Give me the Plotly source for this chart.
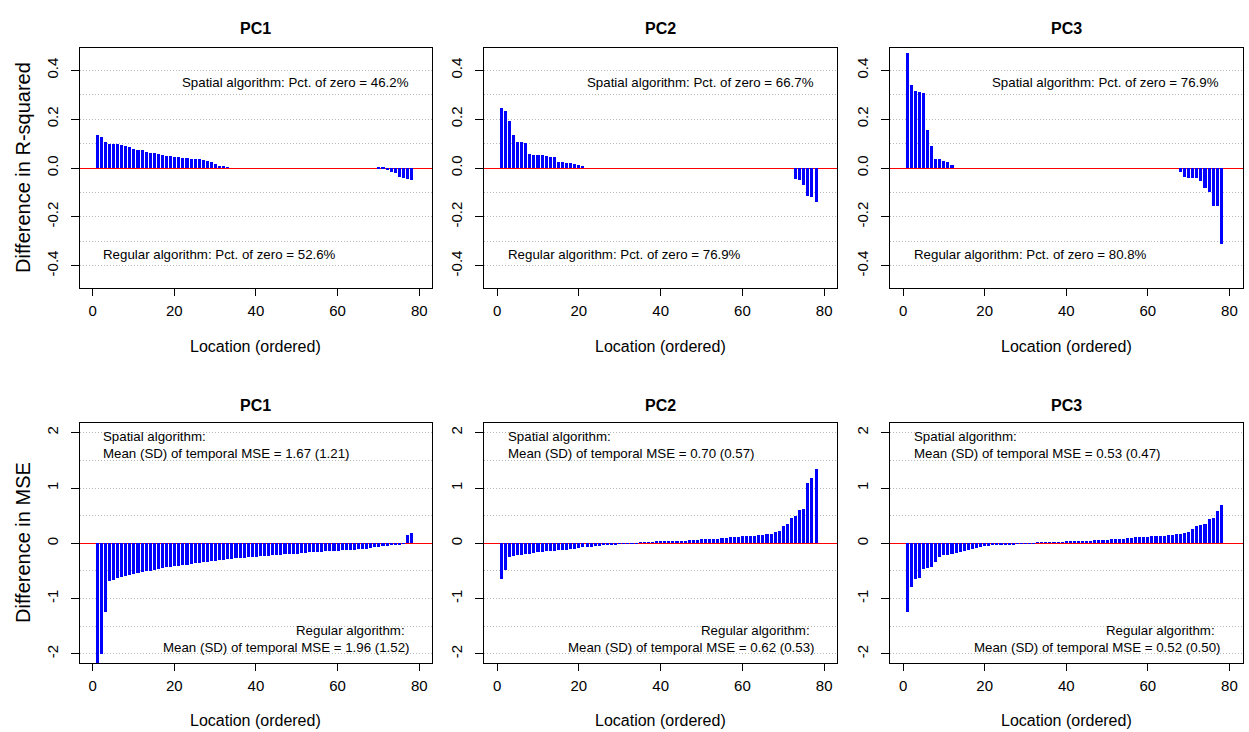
import plotly.graph_objects as go
from plotly.subplots import make_subplots

locations = list(range(1, 79))

r2_pc1 = ([0.133, 0.125, 0.106, 0.099, 0.097, 0.095, 0.094, 0.088, 0.086, 0.076, 0.073,
           0.071, 0.065, 0.061, 0.060, 0.057, 0.052, 0.048, 0.046, 0.045, 0.044, 0.041,
           0.038, 0.037, 0.035, 0.034, 0.030, 0.027, 0.023, 0.014, 0.008, 0.004, 0.002]
          + [0.0] * 36
          + [-0.004, -0.007, -0.011, -0.018, -0.023, -0.037, -0.041, -0.048, -0.052])

r2_pc2 = ([0.245, 0.234, 0.193, 0.133, 0.107, 0.107, 0.103, 0.057, 0.052, 0.050, 0.050,
           0.048, 0.045, 0.042, 0.022, 0.022, 0.019, 0.018, 0.015, 0.011, 0.005]
          + [0.0] * 51
          + [-0.048, -0.050, -0.071, -0.116, -0.118, -0.139])

r2_pc3 = ([0.469, 0.337, 0.312, 0.310, 0.305, 0.154, 0.088, 0.035, 0.035, 0.029, 0.022, 0.010]
          + [0.0] * 55
          + [-0.016, -0.037, -0.041, -0.041, -0.042, -0.056, -0.084, -0.098, -0.156, -0.158, -0.312])

mse_pc1 = [-2.30, -2.00, -1.25, -0.69, -0.66, -0.64, -0.62, -0.60, -0.58, -0.56,
           -0.54, -0.53, -0.51, -0.50, -0.48, -0.47, -0.46, -0.44, -0.43, -0.42,
           -0.41, -0.40, -0.39, -0.38, -0.37, -0.36, -0.35, -0.34, -0.33, -0.32,
           -0.31, -0.30, -0.29, -0.29, -0.28, -0.27, -0.27, -0.26, -0.25, -0.25,
           -0.24, -0.23, -0.23, -0.22, -0.21, -0.21, -0.20, -0.20, -0.19, -0.19,
           -0.18, -0.18, -0.17, -0.17, -0.16, -0.16, -0.15, -0.15, -0.14, -0.14,
           -0.13, -0.13, -0.12, -0.12, -0.11, -0.10, -0.10, -0.09, -0.08, -0.07,
           -0.06, -0.05, -0.04, -0.03, -0.02, -0.01, 0.14, 0.18]

mse_pc2 = [-0.65, -0.49, -0.25, -0.24, -0.22, -0.21, -0.20, -0.19, -0.18, -0.17,
           -0.16, -0.15, -0.14, -0.14, -0.13, -0.12, -0.12, -0.11, -0.10, -0.09,
           -0.08, -0.08, -0.07, -0.06, -0.05, -0.04, -0.035, -0.03, -0.02, -0.015,
           -0.01, -0.008, -0.005, -0.002, 0.003, 0.006, 0.010, 0.015, 0.020, 0.025,
           0.028, 0.032, 0.035, 0.038, 0.040, 0.045, 0.050, 0.055, 0.060, 0.065,
           0.070, 0.072, 0.075, 0.080, 0.090, 0.095, 0.100, 0.105, 0.110, 0.120,
           0.125, 0.130, 0.135, 0.140, 0.150, 0.160, 0.170, 0.190, 0.220, 0.310,
           0.340, 0.460, 0.480, 0.600, 0.610, 1.080, 1.180, 1.330]

mse_pc3 = [-1.25, -0.79, -0.65, -0.64, -0.47, -0.46, -0.43, -0.34, -0.25, -0.22,
           -0.21, -0.20, -0.18, -0.16, -0.15, -0.13, -0.10, -0.09, -0.07, -0.06,
           -0.05, -0.045, -0.04, -0.035, -0.03, -0.025, -0.02, -0.015, -0.01, -0.008,
           -0.005, -0.003, 0.002, 0.004, 0.006, 0.008, 0.010, 0.013, 0.016, 0.020,
           0.024, 0.028, 0.032, 0.036, 0.040, 0.044, 0.048, 0.052, 0.056, 0.060,
           0.065, 0.070, 0.075, 0.080, 0.090, 0.095, 0.100, 0.105, 0.110, 0.115,
           0.120, 0.125, 0.130, 0.135, 0.145, 0.150, 0.155, 0.160, 0.180, 0.200,
           0.250, 0.300, 0.330, 0.340, 0.440, 0.450, 0.580, 0.680]

titles = ["PC1", "PC2", "PC3"]
pct_spatial = ["46.2%", "66.7%", "76.9%"]
pct_regular = ["52.6%", "76.9%", "80.8%"]
mse_spatial = ["1.67 (1.21)", "0.70 (0.57)", "0.53 (0.47)"]
mse_regular = ["1.96 (1.52)", "0.62 (0.53)", "0.52 (0.50)"]

x_ticks = [0, 20, 40, 60, 80]
r2_ticks = [-0.4, -0.2, 0.0, 0.2, 0.4]
r2_ticktext = ["-0.4", "-0.2", "0.0", "0.2", "0.4"]
r2_minor = [-0.3, -0.1, 0.1, 0.3]
mse_ticks = [-2, -1, 0, 1, 2]
mse_ticktext = ["-2", "-1", "0", "1", "2"]
mse_minor = [-1.5, -0.5, 0.5, 1.5]

W, H = 1249, 732
FONT = "Liberation Sans, Arial, sans-serif"

fig = make_subplots(rows=2, cols=3)

top_data = [r2_pc1, r2_pc2, r2_pc3]
bot_data = [mse_pc1, mse_pc2, mse_pc3]
for c in range(3):
    fig.add_trace(go.Bar(x=locations, y=top_data[c], width=0.75, marker_color="#0000FF",
                         marker_line_width=0, showlegend=False), row=1, col=c + 1)
    fig.add_trace(go.Bar(x=locations, y=bot_data[c], width=0.75, marker_color="#0000FF",
                         marker_line_width=0, showlegend=False), row=2, col=c + 1)

col_px = [(79.5, 432.3), (484.0, 837.3), (890.0, 1242.5)]
row_px = [(48.3, 287.7), (423.3, 663.3)]

grid_color = "#B8B8B8"
grid_dash = "1px,2px"
for r in range(2):
    for c in range(3):
        idx = r * 3 + c + 1
        xa = "xaxis" if idx == 1 else f"xaxis{idx}"
        ya = "yaxis" if idx == 1 else f"yaxis{idx}"
        x0, x1 = col_px[c]
        y0, y1 = row_px[r]
        fig.layout[xa].update(
            domain=[x0 / W, x1 / W], range=[-3.2, 83.2], tickvals=x_ticks,
            ticks="outside", ticklen=7, tickcolor="black", tickwidth=1,
            showline=True, mirror=True, linecolor="black", linewidth=1,
            showgrid=False, zeroline=False,
            tickfont=dict(family=FONT, size=15, color="black"),
            ticklabelstandoff=2,
        )
        if r == 0:
            yr = [-0.49, 0.49]; tv = r2_ticks; tt = r2_ticktext; mv = r2_minor
        else:
            yr = [-2.17, 2.17]; tv = mse_ticks; tt = mse_ticktext; mv = mse_minor
        fig.layout[ya].update(
            domain=[1 - y1 / H, 1 - y0 / H], range=yr, tickvals=tv, ticktext=tt,
            tickangle=-90, ticks="outside", ticklen=8, tickcolor="black", tickwidth=1,
            showline=True, mirror=True, linecolor="black", linewidth=1,
            showgrid=True, gridcolor=grid_color, griddash=grid_dash, gridwidth=1,
            minor=dict(tickvals=mv, showgrid=True, gridcolor=grid_color, griddash=grid_dash,
                       gridwidth=1, ticks=""),
            zeroline=True, zerolinecolor="#FF0000", zerolinewidth=1.2,
            tickfont=dict(family=FONT, size=15, color="black"),
            ticklabelstandoff=7,
        )

ann = []
ann_font = dict(family=FONT, size=13.3, color="black")
for c in range(3):
    x0, x1 = col_px[c]
    cx = (x0 + x1) / 2 / W
    ann.append(dict(text="<b>%s</b>" % titles[c], xref="paper", yref="paper", x=cx, y=1 - 28 / H,
                    showarrow=False, xanchor="center", yanchor="middle",
                    font=dict(family=FONT, size=16, color="black")))
    ann.append(dict(text="<b>%s</b>" % titles[c], xref="paper", yref="paper", x=cx, y=1 - 405 / H,
                    showarrow=False, xanchor="center", yanchor="middle",
                    font=dict(family=FONT, size=16, color="black")))
    for yy in (346, 720):
        ann.append(dict(text="Location (ordered)", xref="paper", yref="paper", x=cx, y=1 - yy / H,
                        showarrow=False, xanchor="center", yanchor="middle",
                        font=dict(family=FONT, size=16, color="black")))
    xt = "x" if c == 0 else f"x{c + 1}"
    yt = "y" if c == 0 else f"y{c + 1}"
    xb = f"x{c + 4}"
    yb = f"y{c + 4}"
    ann.append(dict(text="Spatial algorithm: Pct. of zero = " + pct_spatial[c], xref=xt, yref=yt,
                    x=78, y=0.352, showarrow=False, xanchor="right", yanchor="middle", font=ann_font))
    ann.append(dict(text="Regular algorithm: Pct. of zero = " + pct_regular[c], xref=xt, yref=yt,
                    x=2.1, y=-0.354, showarrow=False, xanchor="left", yanchor="middle", font=ann_font))
    ann.append(dict(text="Spatial algorithm:", xref=xb, yref=yb,
                    x=2.1, y=1.93, showarrow=False, xanchor="left", yanchor="middle", font=ann_font))
    ann.append(dict(text="Mean (SD) of temporal MSE = " + mse_spatial[c], xref=xb, yref=yb,
                    x=2.1, y=1.63, showarrow=False, xanchor="left", yanchor="middle", font=ann_font))
    ann.append(dict(text="Regular algorithm:", xref=xb, yref=yb,
                    x=77.0, y=-1.58, showarrow=False, xanchor="right", yanchor="middle", font=ann_font))
    ann.append(dict(text="Mean (SD) of temporal MSE = " + mse_regular[c], xref=xb, yref=yb,
                    x=78.1, y=-1.88, showarrow=False, xanchor="right", yanchor="middle", font=ann_font))

ann.append(dict(text="Difference in R-squared", xref="paper", yref="paper", x=23 / W, y=1 - 168 / H,
                showarrow=False, xanchor="center", yanchor="middle", textangle=-90,
                font=dict(family=FONT, size=20, color="black")))
ann.append(dict(text="Difference in MSE", xref="paper", yref="paper", x=23 / W, y=1 - 543 / H,
                showarrow=False, xanchor="center", yanchor="middle", textangle=-90,
                font=dict(family=FONT, size=20, color="black")))

fig.update_layout(
    width=W, height=H, autosize=False,
    margin=dict(l=0, r=0, t=0, b=0),
    paper_bgcolor="white", plot_bgcolor="white",
    font=dict(family=FONT, color="black"),
    annotations=ann, bargap=0, showlegend=False,
)

fig.write_html("out.html",
               config={"displayModeBar": False},
               post_script="document.body.style.margin='0';document.body.style.overflow='hidden';")
